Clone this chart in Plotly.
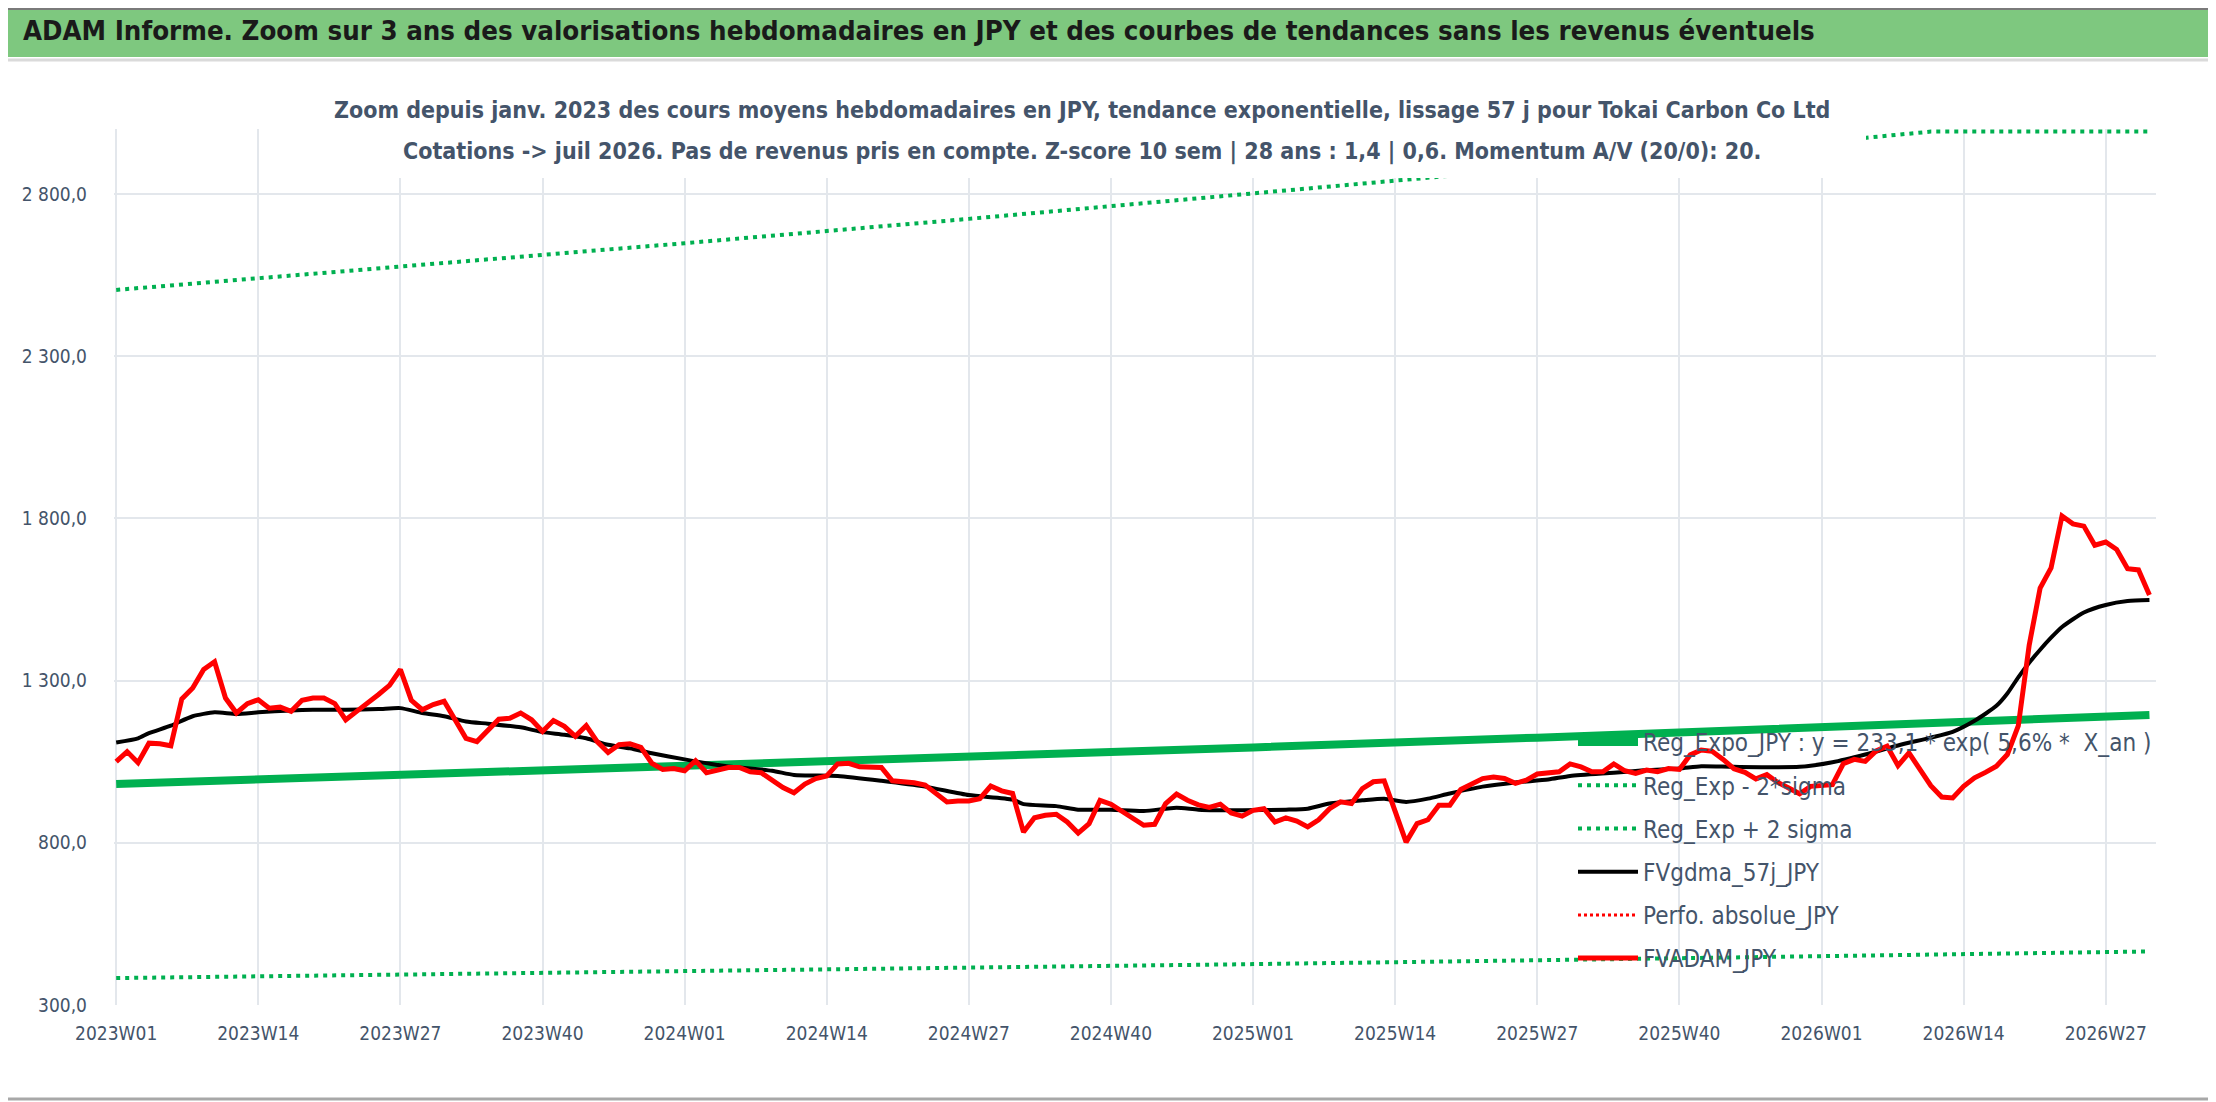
import plotly.graph_objects as go

# --- data ---
years = [2023, 2024, 2025]
weeks = [f"{y}W{w:02d}" for y in years for w in range(1, 53)] + [f"2026W{w:02d}" for w in range(1, 32)]

x_ticks = ["2023W01", "2023W14", "2023W27", "2023W40", "2024W01", "2024W14", "2024W27",
           "2024W40", "2025W01", "2025W14", "2025W27", "2025W40", "2026W01", "2026W14", "2026W27"]

# FVADAM_JPY, weekly (2023W01 -> 2026W31)
fvadam = [
    1050, 1081, 1047, 1107, 1105, 1099, 1243, 1277, 1334, 1358,
    1246, 1200, 1229, 1241, 1215, 1218, 1205, 1239, 1246, 1246,
    1229, 1179, 1205, 1229, 1257, 1285, 1334, 1239, 1210, 1226,
    1236, 1179, 1122, 1112, 1148, 1181, 1184, 1200, 1179, 1143,
    1177, 1159, 1128, 1161, 1112, 1078, 1102, 1105, 1094, 1045,
    1026, 1029, 1022, 1053, 1016, 1024, 1032, 1032, 1019, 1016,
    993, 970, 954, 981, 998, 1006, 1043, 1045, 1034, 1032,
    1032, 991, 988, 985, 978, 954, 926, 929, 929, 936,
    975, 960, 952, 833, 877, 885, 888, 864, 830, 859,
    931, 919, 898, 874, 854, 857, 921, 950, 931, 917,
    909, 919, 892, 882, 900, 905, 864, 877, 867, 849,
    871, 905, 926, 921, 967, 988, 991, 897, 802, 859,
    871, 916, 916, 964, 983, 998, 1003, 998, 983, 993,
    1012, 1014, 1019, 1043, 1034, 1019, 1019, 1043, 1022, 1014,
    1024, 1019, 1029, 1026, 1071, 1086, 1082, 1057, 1028, 1017,
    997, 1010, 986, 969, 951, 974, 976, 979, 1044, 1057,
    1051, 1083, 1098, 1038, 1077, 1028, 976, 941, 938, 974,
    1000, 1017, 1036, 1072, 1160, 1409, 1585, 1647, 1807, 1783,
    1776, 1717, 1727, 1704, 1645, 1641, 1564,
]

# FVgdma_57j_JPY (smooth), sampled weeks
gdma_idx = [0, 2, 3, 5, 7, 9, 11, 13, 16, 18, 21, 24, 26, 28, 30, 32, 34, 37, 39, 41,
            43, 45, 47, 49, 52, 56, 60, 62, 66, 70, 74, 78, 82, 83, 86, 88, 91, 94, 97, 99,
            103, 107, 109, 111, 114, 116, 118, 120, 122, 125, 128, 131, 133, 137, 140, 143, 145, 148, 154, 157,
            160, 163, 166, 168, 170, 172, 173, 174, 175, 176, 177, 178, 180, 182, 184, 186]
gdma_val = [1109, 1122, 1138, 1161, 1190, 1202, 1197, 1202, 1208, 1210, 1210, 1212, 1215, 1200, 1190, 1174, 1167, 1156, 1141, 1133,
            1122, 1102, 1091, 1076, 1057, 1035, 1022, 1009, 1006, 991, 973, 947, 933, 919, 913, 902, 902, 898, 908, 902,
            900, 902, 905, 921, 931, 936, 926, 936, 952, 973, 986, 995, 1006, 1016, 1024, 1029, 1036, 1034, 1034, 1048,
            1072, 1100, 1124, 1142, 1176, 1222, 1260, 1310, 1355, 1395, 1432, 1465, 1510, 1533, 1545, 1548]

# exponential regression and +/- 2 sigma bands, read at a few weeks
reg_idx = [0, 26, 52, 78, 104, 130, 156, 166, 186]
reg_val = [981, 1008, 1036, 1065, 1094, 1124, 1156, 1168, 1194]
reg_low = [383, 393, 404, 415, 426, 438, 450, 455, 465]
reg_high = [2504, 2575, 2648, 2723, 2800, 2880, 2960, 2992, 2992]

# --- layout helpers (page pixels -> paper); the page body adds an 8px offset ---
W, H = 2216, 1102
OFF = 8
ML, MR, MT, MB = 114 - OFF, W - (2156 - OFF), 129 - OFF, H - (1005 - OFF)
FONT = "Liberation Sans Narrow, DejaVu Sans Condensed, Arial Narrow, sans-serif"
TXT = "#44546A"
GRID = "#E3E7EC"


def px(x):
    return (x - OFF - ML) / (W - ML - MR)


def py(y):
    return (H - MB - (y - OFF)) / (H - MT - MB)


fig = go.Figure()

fig.add_trace(go.Scatter(x=[weeks[i] for i in reg_idx], y=reg_low, mode="lines",
                         name="Reg_Exp - 2*sigma", legendrank=2, legendgroup="b",
                         line=dict(color="#00B050", width=4, dash="4px,5px")))
fig.add_trace(go.Scatter(x=[weeks[i] for i in reg_idx], y=reg_high, mode="lines",
                         name="Reg_Exp + 2 sigma", legendrank=3, legendgroup="c",
                         line=dict(color="#00B050", width=4, dash="4px,5px")))
fig.add_trace(go.Scatter(x=[weeks[i] for i in reg_idx], y=reg_val, mode="lines",
                         name="Reg_Expo_JPY : y = 233,1 * exp( 5,6% *  X_an )", legendrank=1, legendgroup="a",
                         line=dict(color="#00B050", width=8)))
fig.add_trace(go.Scatter(x=[None], y=[None], mode="lines",
                         name="Perfo. absolue_JPY", legendrank=5, legendgroup="e",
                         line=dict(color="#FF0000", width=3, dash="3px,3px")))
fig.add_trace(go.Scatter(x=[weeks[i] for i in gdma_idx], y=gdma_val, mode="lines",
                         name="FVgdma_57j_JPY", legendrank=4, legendgroup="d",
                         line=dict(color="#000000", width=4, shape="spline", smoothing=0.6)))
fig.add_trace(go.Scatter(x=weeks, y=fvadam, mode="lines",
                         name="FVADAM_JPY", legendrank=6, legendgroup="f",
                         line=dict(color="#FF0000", width=5)))

# title band, frame and the white box behind the subtitle
shapes = [
    dict(type="rect", xref="paper", yref="paper", x0=px(0), x1=px(W + OFF), y0=py(57), y1=py(0),
         fillcolor="#7EC87F", line=dict(width=0), layer="below"),
    dict(type="line", xref="paper", yref="paper", x0=px(0), x1=px(W + OFF), y0=py(OFF + 1), y1=py(OFF + 1),
         line=dict(color="#7A7A7A", width=2)),
    dict(type="line", xref="paper", yref="paper", x0=px(0), x1=px(W + OFF), y0=py(60), y1=py(60),
         line=dict(color="#DADADA", width=3)),
    dict(type="line", xref="paper", yref="paper", x0=px(2212), x1=px(2212), y0=py(60), y1=py(1099),
         line=dict(color="#D6D6D6", width=2)),
    dict(type="line", xref="paper", yref="paper", x0=px(0), x1=px(W + OFF), y0=py(1099), y1=py(1099),
         line=dict(color="#A8A8A8", width=3)),
    dict(type="rect", xref="paper", yref="paper", x0=px(318), x1=px(1866), y0=py(178), y1=py(84),
         fillcolor="white", line=dict(width=0), layer="above"),
]

annotations = [
    dict(xref="paper", yref="paper", x=px(21), y=py(31), xanchor="left", yanchor="middle",
         showarrow=False, font=dict(family=FONT, size=27.4, color="#1A1A1A"),
         text="<b>ADAM Informe. Zoom sur 3 ans des valorisations hebdomadaires en JPY et des courbes de tendances sans les revenus éventuels</b>"),
    dict(xref="paper", yref="paper", x=px(1082), y=py(110), xanchor="center", yanchor="middle",
         showarrow=False, font=dict(family=FONT, size=23, color=TXT),
         text="<b>Zoom depuis janv. 2023 des cours moyens hebdomadaires en JPY, tendance exponentielle, lissage 57 j pour Tokai Carbon Co Ltd</b>"),
    dict(xref="paper", yref="paper", x=px(1082), y=py(151), xanchor="center", yanchor="middle",
         showarrow=False, font=dict(family=FONT, size=23, color=TXT),
         text="<b>Cotations -> juil 2026. Pas de revenus pris en compte. Z-score 10 sem | 28 ans : 1,4 | 0,6. Momentum A/V (20/0): 20.</b>"),
]

fig.update_layout(
    width=W, height=H,
    margin=dict(l=ML, r=MR, t=MT, b=MB, autoexpand=False),
    paper_bgcolor="white", plot_bgcolor="white",
    separators=", ",
    font=dict(family=FONT, size=19, color=TXT),
    shapes=shapes, annotations=annotations,
    legend=dict(x=px(1573), y=py(720), xanchor="left", yanchor="top",
                bgcolor="rgba(0,0,0,0)", font=dict(size=24, color=TXT),
                traceorder="grouped", tracegroupgap=9, itemwidth=60),
    xaxis=dict(type="category", categoryorder="array", categoryarray=weeks,
               tickvals=x_ticks, range=[-0.2, 186.6], showgrid=True, gridcolor=GRID,
               gridwidth=2, zeroline=False, showline=False, ticks="",
               ticklabelstandoff=15, tickangle=0, automargin=False),
    yaxis=dict(range=[300, 3000], tick0=300, dtick=500, tickformat=",.1f",
               showgrid=True, gridcolor=GRID, gridwidth=2, zeroline=False,
               showline=False, ticks="", ticklabelstandoff=26, automargin=False),
)

fig.write_html("out.html")
